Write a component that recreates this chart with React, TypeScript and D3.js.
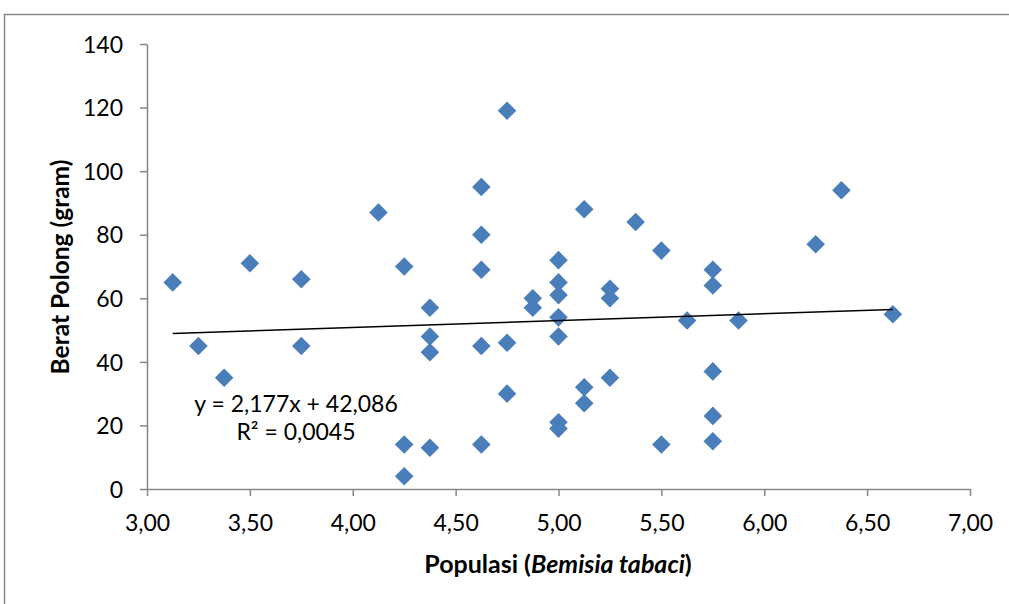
import React, { useRef, useEffect } from 'react';
import * as d3 from 'd3';

// Populasi (Bemisia tabaci) vs Berat Polong (gram)
const populasi = [
  3.125, 3.25, 3.375, 3.5, 3.75, 3.75, 4.125, 4.25, 4.25, 4.25,
  4.375, 4.375, 4.375, 4.375, 4.625, 4.625, 4.625, 4.625, 4.625, 4.75,
  4.75, 4.75, 4.875, 4.875, 5.0, 5.0, 5.0, 5.0, 5.0, 5.0,
  5.0, 5.125, 5.125, 5.125, 5.25, 5.25, 5.25, 5.375, 5.5, 5.5,
  5.625, 5.75, 5.75, 5.75, 5.75, 5.75, 5.875, 6.25, 6.375, 6.625,
];
const beratPolong = [
  65, 45, 35, 71, 66, 45, 87, 70, 14, 4,
  57, 48, 43, 13, 95, 80, 69, 45, 14, 119,
  46, 30, 60, 57, 72, 65, 61, 54, 48, 21,
  19, 88, 32, 27, 63, 60, 35, 84, 75, 14,
  53, 69, 64, 37, 23, 15, 53, 77, 94, 55,
];

const xTicks = [3, 3.5, 4, 4.5, 5, 5.5, 6, 6.5, 7];
const yTicks = [0, 20, 40, 60, 80, 100, 120, 140];

const slope = 2.177;
const intercept = 42.086;
const eqLabel = 'y = 2,177x + 42,086';
const r2Label = 'R² = 0,0045';

const font = 'Lato, "Open Sans", sans-serif';
const gray = '#868686';

const App = () => {
  const svgRef = useRef<SVGSVGElement>(null);

  useEffect(() => {
    const svg = d3.select(svgRef.current);
    svg.selectAll('*').remove();

    const x = d3.scaleLinear().domain([3, 7]).range([147, 970]);
    const y = d3.scaleLinear().domain([0, 140]).range([489, 44]);

    // outer chart frame
    svg
      .append('path')
      .attr('d', 'M4.5,1009 L4.5,14.5 L1009,14.5')
      .attr('fill', 'none')
      .attr('stroke', gray)
      .attr('stroke-width', 1.5);

    const fmt = (d: number) => d3.format('.2f')(d).replace('.', ',');

    const xAxis = svg
      .append('g')
      .attr('transform', 'translate(0,489)')
      .call(d3.axisBottom(x).tickValues(xTicks).tickSize(7).tickSizeOuter(0).tickPadding(19).tickFormat((d) => fmt(d as number)));

    const yAxis = svg
      .append('g')
      .attr('transform', 'translate(147,0)')
      .call(d3.axisLeft(y).tickValues(yTicks).tickSize(7).tickSizeOuter(0).tickPadding(17));

    [xAxis, yAxis].forEach((g) => {
      g.selectAll('path, line').attr('stroke', gray).attr('stroke-width', 1.5);
      g.selectAll('text').attr('fill', '#000').style('font-family', font).style('font-size', '23px');
    });
    yAxis.selectAll('text').attr('dy', '0.36em');

    // data points
    const pts = populasi.map((p, i) => [p, beratPolong[i]]);
    svg
      .append('g')
      .selectAll('path')
      .data(pts)
      .join('path')
      .attr('d', d3.symbol().type(d3.symbolDiamond2).size(220))
      .attr('transform', (d) => `translate(${x(d[0])},${y(d[1])})`)
      .attr('fill', '#4A7EBB');

    // linear trendline
    const ext = d3.extent(populasi) as [number, number];
    svg
      .append('line')
      .attr('x1', x(ext[0]))
      .attr('y1', y(slope * ext[0] + intercept))
      .attr('x2', x(ext[1]))
      .attr('y2', y(slope * ext[1] + intercept))
      .attr('stroke', '#000')
      .attr('stroke-width', 1.5);

    const eq = svg
      .append('text')
      .attr('text-anchor', 'middle')
      .style('font-family', font)
      .style('font-size', '23px');
    eq.append('tspan').attr('x', 296).attr('y', 412).text(eqLabel);
    eq.append('tspan').attr('x', 296).attr('y', 440).text(r2Label);

    // axis titles
    const xt = svg
      .append('text')
      .attr('x', 558)
      .attr('y', 573)
      .attr('text-anchor', 'middle')
      .style('font-family', font)
      .style('font-size', '25px')
      .style('font-weight', 'bold');
    xt.append('tspan').text('Populasi (');
    xt.append('tspan').style('font-style', 'italic').text('Bemisia tabaci');
    xt.append('tspan').text(')');

    svg
      .append('text')
      .attr('transform', 'translate(69,267) rotate(-90)')
      .attr('text-anchor', 'middle')
      .style('font-family', font)
      .style('font-size', '24.5px')
      .style('font-weight', 'bold')
      .text('Berat Polong (gram)');
  }, []);

  return (
    <div id="scatter-chart">
      <svg
        ref={svgRef}
        width={1009}
        height={604}
        style={{ position: 'absolute', left: 0, top: 0, background: '#fff' }}
      ></svg>
    </div>
  );
};

export default App;
